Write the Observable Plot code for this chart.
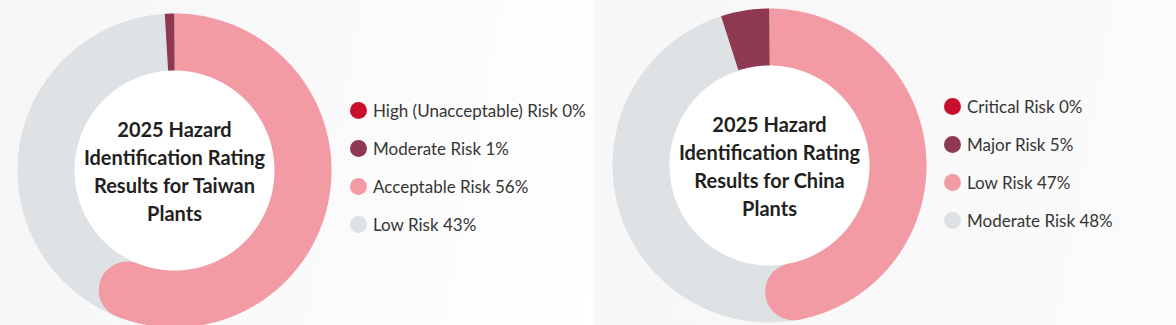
<!DOCTYPE html>
<html>
<head>
<meta charset="utf-8">
<script src="https://cdn.jsdelivr.net/npm/d3@7"></script>
<script src="https://cdn.jsdelivr.net/npm/@observablehq/plot@0.6"></script>
<style>
  html, body { margin: 0; padding: 0; background: #ffffff; }
  #wrap { position: relative; width: 1176px; height: 325px; overflow: hidden; font-family: Lato, "Open Sans", sans-serif; }
  .panel { position: absolute; top: 0; height: 325px; }
  #p1 { left: 0; width: 594px; background: linear-gradient(100deg, #f6f6f6 0%, #fafafa 55%, #ffffff 100%); }
  #p2 { left: 594px; width: 582px; background: linear-gradient(100deg, #f7f7f7 0%, #f9f9f9 60%, #fbfbfb 100%); }
  .panel svg { position: absolute; left: 0; top: 0; background: transparent; }
  .legend { position: absolute; }
  .row { display: flex; align-items: center; height: 38px; font-size: 17px; color: #363636; white-space: nowrap; }
  .sw { width: 17px; height: 17px; border-radius: 50%; margin-right: 6px; flex: none; }
</style>
</head>
<body>
<div id="wrap">
  <div class="panel" id="p1"></div>
  <div class="panel" id="p2"></div>
</div>
<script>
// ---- data ----
const colors = ["#c8102e", "#8f3852", "#f29ba4", "#dee2e5"];

const twLabels = ["High (Unacceptable) Risk", "Moderate Risk", "Acceptable Risk", "Low Risk"];
const twValues = [0, 1, 56, 43];
const twTitle = "2025 Hazard\nIdentification Rating\nResults for Taiwan\nPlants";

const cnLabels = ["Critical Risk", "Major Risk", "Low Risk", "Moderate Risk"];
const cnValues = [0, 5, 47, 48];
const cnTitle = "2025 Hazard\nIdentification Rating\nResults for China\nPlants";

// clockwise drawing order from 12 o'clock (indices into the arrays above)
const drawOrder = [2, 3, 1, 0];

function donut(el, {labels, values, title, width, cx, cy, rOuter, rInner, legendLeft, legendTop}) {
  const rMid = (rOuter + rInner) / 2;
  const thick = rOuter - rInner;
  const total = d3.sum(values);
  const rows = [];
  let acc = 0;
  let capEnd = null;
  drawOrder.forEach((idx, k) => {
    const v = values[idx];
    if (v === 0) return;
    const a0 = acc / total * 2 * Math.PI;
    const a1 = (acc + v) / total * 2 * Math.PI;
    const n = Math.max(2, Math.ceil((a1 - a0) / (Math.PI / 360)) + 1);
    for (let i = 0; i < n; i++) {
      const a = a0 + (a1 - a0) * i / (n - 1);
      rows.push({label: labels[idx], x: cx + rMid * Math.sin(a), y: cy - rMid * Math.cos(a)});
    }
    if (k === 0) capEnd = {label: labels[idx], x: cx + rMid * Math.sin(a1), y: cy - rMid * Math.cos(a1)};
    acc += v;
  });

  const chart = Plot.plot({
    width, height: 325,
    margin: 0,
    x: {type: "identity", axis: null},
    y: {type: "identity", axis: null},
    color: {domain: labels, range: colors},
    style: {background: "transparent", overflow: "visible"},
    marks: [
      Plot.dot([{x: cx, y: cy}], {x: "x", y: "y", r: rInner + 2, fill: "#ffffff", stroke: "none"}),
      Plot.line(rows, {x: "x", y: "y", z: "label", stroke: "label", strokeWidth: thick, strokeLinecap: "butt", strokeLinejoin: "round", curve: "linear"}),
      Plot.dot([capEnd], {x: "x", y: "y", r: thick / 2, fill: "label", stroke: "none"}),
      Plot.text([{x: cx, y: cy, t: title}], {x: "x", y: "y", text: "t", fontSize: 20, fontWeight: "bold", lineHeight: 1.4, fill: "#231f20", fontFamily: "Lato, 'Open Sans', sans-serif", textAnchor: "middle", lineAnchor: "middle"})
    ]
  });
  el.appendChild(chart);

  const leg = document.createElement("div");
  leg.className = "legend";
  leg.style.left = legendLeft + "px";
  leg.style.top = legendTop + "px";
  labels.forEach((lab, i) => {
    const row = document.createElement("div");
    row.className = "row";
    const sw = document.createElement("span");
    sw.className = "sw";
    sw.style.background = colors[i];
    const tx = document.createElement("span");
    tx.textContent = `${lab} ${values[i]}%`;
    row.appendChild(sw);
    row.appendChild(tx);
    leg.appendChild(row);
  });
  el.appendChild(leg);
}

donut(document.getElementById("p1"), {
  labels: twLabels, values: twValues, title: twTitle,
  width: 594, cx: 174, cy: 170, rOuter: 157, rInner: 100,
  legendLeft: 350, legendTop: 91
});
donut(document.getElementById("p2"), {
  labels: cnLabels, values: cnValues, title: cnTitle,
  width: 582, cx: 175, cy: 165, rOuter: 157, rInner: 100,
  legendLeft: 350, legendTop: 87
});
</script>
</body>
</html>
